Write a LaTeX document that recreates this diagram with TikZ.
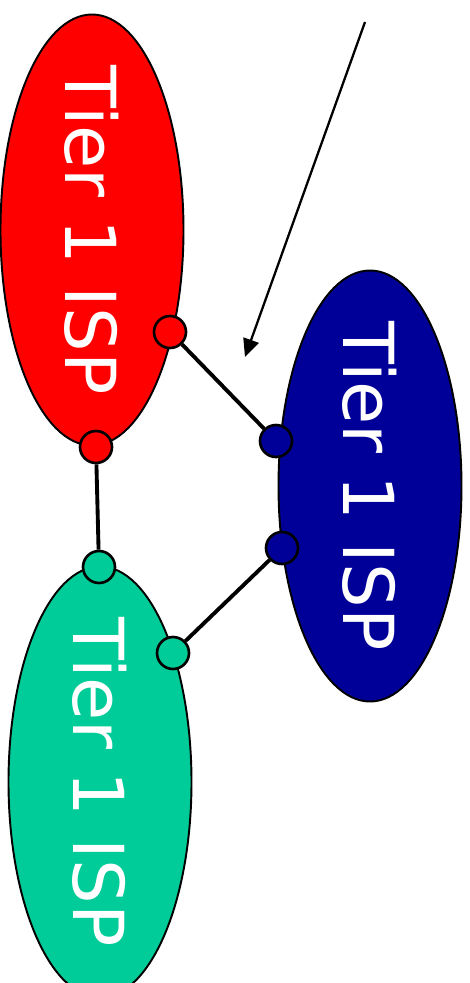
\documentclass[tikz,border=0pt]{standalone}
\usepackage{fontspec}
\setmainfont{DejaVu Sans}
\usetikzlibrary{shapes.geometric,arrows.meta}
\definecolor{ispred}{HTML}{FF0000}
\definecolor{ispblue}{HTML}{000099}
\definecolor{ispgreen}{HTML}{00CC99}

\begin{document}
\begin{tikzpicture}[
    isp/.style={ellipse, draw=black, line width=1.1pt,
                minimum width=3.66cm, minimum height=8.62cm, inner sep=0pt},
    isplabel/.style={rotate=-90, text=white, font=\fontsize{40}{48}\selectfont},
    port/.style={circle, draw=black, line width=1.5pt,
                 minimum size=0.64cm, inner sep=0pt},
    link/.style={line width=2.2pt}]
  \useasboundingbox (0,0) rectangle (9.38,-19.66);

  % the three backbone providers
  \foreach \n/\c/\x/\y in {ispA/ispred/1.84/-4.6,
                           ispB/ispblue/7.4/-9.72,
                           ispC/ispgreen/2.0/-15.64}{
    \node[isp, fill=\c] (\n) at (\x,\y) {};
    \node[isplabel] (\n-txt) at (\n) {Tier 1 ISP};
  }

  % peering ports on the borders
  \foreach \n/\c/\x/\y in {pA1/ispred/3.40/-6.64, pA2/ispred/1.92/-8.94,
                           pB1/ispblue/5.52/-8.82, pB2/ispblue/5.64/-10.96,
                           pC1/ispgreen/1.98/-11.34, pC2/ispgreen/3.46/-13.06}{
    \node[port, fill=\c] (\n) at (\x,\y) {};
  }

  \draw[link] (pA1) -- (pB1);
  \draw[link] (pA2) -- (pC1);
  \draw[link] (pB2) -- (pC2);

  \coordinate (tail) at (7.3,-0.44);
  \coordinate (tip) at (4.9,-7.14);
  \draw[line width=1.3pt, -{Triangle[length=0.36cm,width=0.32cm]}] (tail) -- (tip);
\end{tikzpicture}
\end{document}
